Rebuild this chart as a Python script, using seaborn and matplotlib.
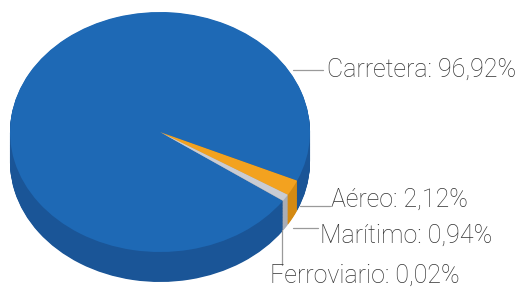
import numpy as np
import matplotlib
matplotlib.use("Agg")
import matplotlib.pyplot as plt
import seaborn as sns

# Data
modes = ["Carretera", "Aéreo", "Marítimo", "Ferroviario"]
shares = [96.92, 2.12, 0.94, 0.02]
labels = ["Carretera: 96,92%", "Aéreo: 2,12%", "Marítimo: 0,94%", "Ferroviario: 0,02%"]

top_colors = ["#1e69b5", "#f3a21f", "#c9ccd3", "#7d8a99"]
side_colors = ["#1a5597", "#d48a12", "#a9adb6", "#5f6b78"]

W, H = 531, 294
CX, CY = 160, 132      # pie centre in pixels
RX, RY = 150, 120      # pie radii in pixels
DEPTH = 30             # thickness in pixels

sns.set_style("white")
plt.rcParams["font.family"] = ["Roboto", "DejaVu Sans"]

fig = plt.figure(figsize=(W / 100, H / 100), dpi=100)
ax = fig.add_axes([0, 0, 1, 1])


def px(x, y):
    """pixel (from top-left) -> data coords"""
    return (x - CX) / RX, (CY - y) / RY


# side of the cylinder: stacked layers
depth_u = DEPTH / RY
for d in np.linspace(depth_u, 0.005, 40):
    ax.pie(shares, colors=side_colors, startangle=-35, counterclock=False,
           center=(0, -d), radius=1, wedgeprops=dict(linewidth=0))

# top face
ax.pie(shares, colors=top_colors, startangle=-35, counterclock=False,
       center=(0, 0), radius=1, wedgeprops=dict(linewidth=0))

ax.set_aspect("auto")
ax.set_xlim(px(0, 0)[0], px(W, 0)[0])
ax.set_ylim(px(0, H)[1], px(0, 0)[1])
ax.axis("off")

# labels with leader lines
txt_kw = dict(fontsize=18, color="#333333", fontweight="light", va="center", ha="left")
line_kw = dict(color="#9a9a9a", lw=0.9)

x0, y0 = px(293, 70); x1, _ = px(323, 70)
ax.plot([x0, x1], [y0, y0], **line_kw)
ax.text(*px(327, 70), labels[0], **txt_kw)

x0, y0 = px(300, 206); x1, _ = px(330, 206)
ax.plot([x0, x1], [y0, y0], **line_kw)
ax.text(*px(331, 200), labels[1], **txt_kw)

x0, y0 = px(293, 228); x1, _ = px(318, 228)
ax.plot([x0, x1], [y0, y0], **line_kw)
ax.text(*px(320, 236), labels[2], **txt_kw)

xa, ya = px(282, 230); _, yb = px(282, 265)
ax.plot([xa, xa], [ya, yb], **line_kw)
ax.text(*px(270, 276), labels[3], **txt_kw)

fig.savefig("out.png", dpi=100, facecolor="white")
